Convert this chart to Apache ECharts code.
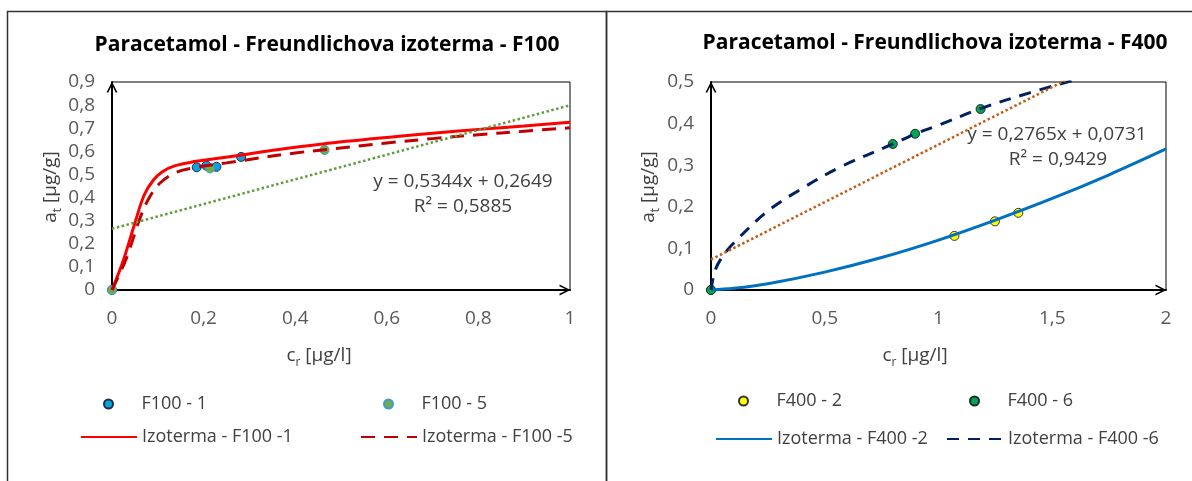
<!DOCTYPE html>
<html>
<head>
<meta charset="utf-8">
<script src="https://cdn.jsdelivr.net/npm/echarts@6/dist/echarts.min.js"></script>
<style>
html,body{margin:0;padding:0;background:#fff;}
#c{width:1192px;height:481px;}
</style>
</head>
<body>
<div id="c"></div>
<script>
// ---------- DATA ----------
// Left chart: F100
const f100_1 = [[0,0],[0.185,0.531],[0.206,0.538],[0.228,0.533],[0.282,0.576]];
const f100_5 = [[0,0],[0.214,0.526],[0.464,0.606]];
const izoF100_1 = [[0,0],[0.025,0.13],[0.05,0.29],[0.07,0.41],[0.09,0.475],[0.11,0.512],[0.135,0.536],[0.17,0.552],[0.2,0.561],[0.28,0.583],[0.36,0.607],[0.46,0.632],[0.6,0.66],[0.7,0.678],[0.8,0.695],[0.9,0.71],[1,0.726]];
const izoF100_5 = [[0,0],[0.03,0.13],[0.061,0.31],[0.08,0.395],[0.105,0.463],[0.141,0.51],[0.185,0.531],[0.25,0.55],[0.3,0.565],[0.4,0.593],[0.464,0.607],[0.6,0.636],[0.7,0.655],[0.8,0.672],[0.9,0.687],[1,0.702]];
const trendF100 = {slope:0.5344, intercept:0.2649, r2:'0,5885', xFrom:0, xTo:1};
// Right chart: F400
const f400_2 = [[0,0],[1.07,0.13],[1.248,0.165],[1.351,0.1855]];
const f400_6 = [[0,0],[0.799,0.351],[0.897,0.3756],[1.185,0.435]];
const izoF400_2 = [[0,0],[0.1,0.004],[0.25,0.015],[0.5,0.043],[0.75,0.078],[1,0.12],[1.25,0.168],[1.5,0.22],[1.75,0.277],[2,0.339]];
const izoF400_6 = [[0,0],[0.018,0.047],[0.05,0.08],[0.1,0.113],[0.25,0.19],[0.4,0.244],[0.57,0.296],[0.8,0.351],[0.9,0.376],[1.0,0.396],[1.185,0.436],[1.4,0.474],[1.6,0.505]];
const trendF400 = {slope:0.2765, intercept:0.0731, r2:'0,9429', xFrom:0, xTo:2};
// Axes
const leftY = {min:0, max:0.9, interval:0.1};
const leftX = {min:0, max:1, interval:0.2};
const rightY = {min:0, max:0.5, interval:0.1};
const rightX = {min:0, max:2, interval:0.5};
const titles = ['Paracetamol - Freundlichova izoterma - F100','Paracetamol - Freundlichova izoterma - F400'];

// ---------- HELPERS ----------
const FONT = "'Open Sans', 'Noto Sans', sans-serif";
const comma = v => String(+v.toFixed(4)).replace('.', ',');
const fmt = n => n.toFixed(4).replace('.', ',');
const trendPts = t => [[t.xFrom, t.intercept + t.slope*t.xFrom],[t.xTo, t.intercept + t.slope*t.xTo]];
const chevron = 'path://M0,10 L5,0 L10,10 L8.4,10 L5,3.2 L1.6,10 Z';

function axis(ax, gi, isX){
  return {gridIndex:gi, type:'value', min:ax.min, max:ax.max, interval:ax.interval,
    axisLine:{show:true, onZero:false, lineStyle:{color:'#000', width:2}, symbol:['none', chevron], symbolSize:[13,11], symbolOffset:[0,-5]},
    axisTick:{show:false}, splitLine:{show:false},
    axisLabel:{formatter:comma, color:'#595959', fontSize:19, fontFamily:FONT, margin:isX ? 19 : 17}};
}
function scatter(name, data, gi, fill, border){
  return {name, type:'scatter', xAxisIndex:gi, yAxisIndex:gi, data, symbol:'circle', symbolSize:9,
    itemStyle:{color:fill, borderColor:border, borderWidth:1, opacity:1}, z:2};
}
function line(name, data, gi, color, type, width){
  return {name, type:'line', xAxisIndex:gi, yAxisIndex:gi, data, smooth:0.35, symbol:'none', clip:true,
    lineStyle:{color, type, width}, itemStyle:{color}, z:3};
}
function legend(name, left, centerY, isLine){
  const item = isLine ? {name, itemStyle:{color:'rgba(0,0,0,0)', borderWidth:0, borderColor:'rgba(0,0,0,0)'}} : {name};
  return {data:[item], left, top:centerY-11, padding:0, itemWidth:56, itemHeight:9, selectedMode:false,
    textStyle:{fontSize:18, color:'#404040', fontFamily:FONT, lineHeight:22}};
}
function txt(text, x, y, opts){
  opts = opts || {};
  return {type:'text', x, y, rotation:opts.rotation||0, silent:true, z:10,
    style:{text, fill:opts.color||'#404040', font:(opts.weight||'normal')+' '+(opts.size||18)+'px '+FONT,
      align:'center', verticalAlign:'middle', textAlign:'center', textVerticalAlign:'middle', rich:opts.rich}};
}
const subRich = {
  a:{fontSize:19, fontFamily:FONT, fill:'#404040', color:'#404040', lineHeight:26},
  s:{fontSize:12, fontFamily:FONT, fill:'#404040', color:'#404040', lineHeight:14, verticalAlign:'bottom'}
};

const chart = echarts.init(document.getElementById('c'), null, {renderer:'canvas'});
chart.setOption({
  animation:false,
  backgroundColor:'#fff',
  textStyle:{fontFamily:FONT},
  grid:[
    {left:112, right:622, top:82, bottom:191, show:true, borderColor:'#000', borderWidth:1},
    {left:711, right:26, top:82, bottom:191, show:true, borderColor:'#000', borderWidth:1}
  ],
  xAxis:[axis(leftX,0,true), axis(rightX,1,true)],
  yAxis:[axis(leftY,0,false), axis(rightY,1,false)],
  legend:[
    legend('F100 - 1', 103, 404), legend('F100 - 5', 383, 404),
    legend('Izoterma - F100 -1', 80, 437, true), legend('Izoterma - F100 -5', 360, 437, true),
    legend('F400 - 2', 738, 401), legend('F400 - 6', 969, 401),
    legend('Izoterma - F400 -2', 715, 439, true), legend('Izoterma - F400 -6', 946, 439, true)
  ],
  series:[
    scatter('F100 - 1', f100_1, 0, '#0AA2E2', '#1F2F45'),
    scatter('F100 - 5', f100_5, 0, '#70AD47', '#3D9AD8'),
    line('Izoterma - F100 -1', izoF100_1, 0, '#FF0000', 'solid', 3),
    line('Izoterma - F100 -5', izoF100_5, 0, '#C00000', [14,9], 3),
    {name:'trendF100', type:'line', xAxisIndex:0, yAxisIndex:0, data:trendPts(trendF100), symbol:'none',
      lineStyle:{color:'#5E9E3A', width:2.5, type:[2.5,2.5]}, z:4, silent:true},
    scatter('F400 - 2', f400_2, 1, '#FFFF00', '#333333'),
    scatter('F400 - 6', f400_6, 1, '#00A650', '#1E2E2A'),
    line('Izoterma - F400 -2', izoF400_2, 1, '#0070C0', 'solid', 3),
    line('Izoterma - F400 -6', izoF400_6, 1, '#002060', [12,9], 3),
    {name:'trendF400', type:'line', xAxisIndex:1, yAxisIndex:1, data:trendPts(trendF400), symbol:'none', clip:true,
      lineStyle:{color:'#C55A11', width:2.5, type:[2.5,2.5]}, z:4, silent:true}
  ],
  graphic:[
    {type:'rect', shape:{x:7.5, y:11.5, width:599, height:500}, style:{fill:'none', stroke:'#333', lineWidth:1.5}, silent:true, z:0},
    {type:'rect', shape:{x:606.5, y:11.5, width:600, height:500}, style:{fill:'none', stroke:'#333', lineWidth:1.5}, silent:true, z:0},
    txt(titles[0], 327, 45, {weight:'bold', size:21, color:'#000'}),
    txt(titles[1], 935, 43, {weight:'bold', size:21, color:'#000'}),
    txt('{a|c}{s|r}{a| [μg/l]}', 319, 356, {rich:subRich}),
    txt('{a|c}{s|r}{a| [μg/l]}', 915, 356, {rich:subRich}),
    txt('{a|a}{s|t}{a| [μg/g]}', 51, 187, {rich:subRich, rotation:Math.PI/2}),
    txt('{a|a}{s|t}{a| [μg/g]}', 649, 187, {rich:subRich, rotation:Math.PI/2}),
    txt('y = ' + fmt(trendF100.slope) + 'x + ' + fmt(trendF100.intercept), 463, 182, {size:19}),
    txt('R² = ' + trendF100.r2, 463, 207, {size:19}),
    txt('y = ' + fmt(trendF400.slope) + 'x + ' + fmt(trendF400.intercept), 1057, 135, {size:19}),
    txt('R² = ' + trendF400.r2, 1058, 160, {size:19})
  ]
});
</script>
</body>
</html>
